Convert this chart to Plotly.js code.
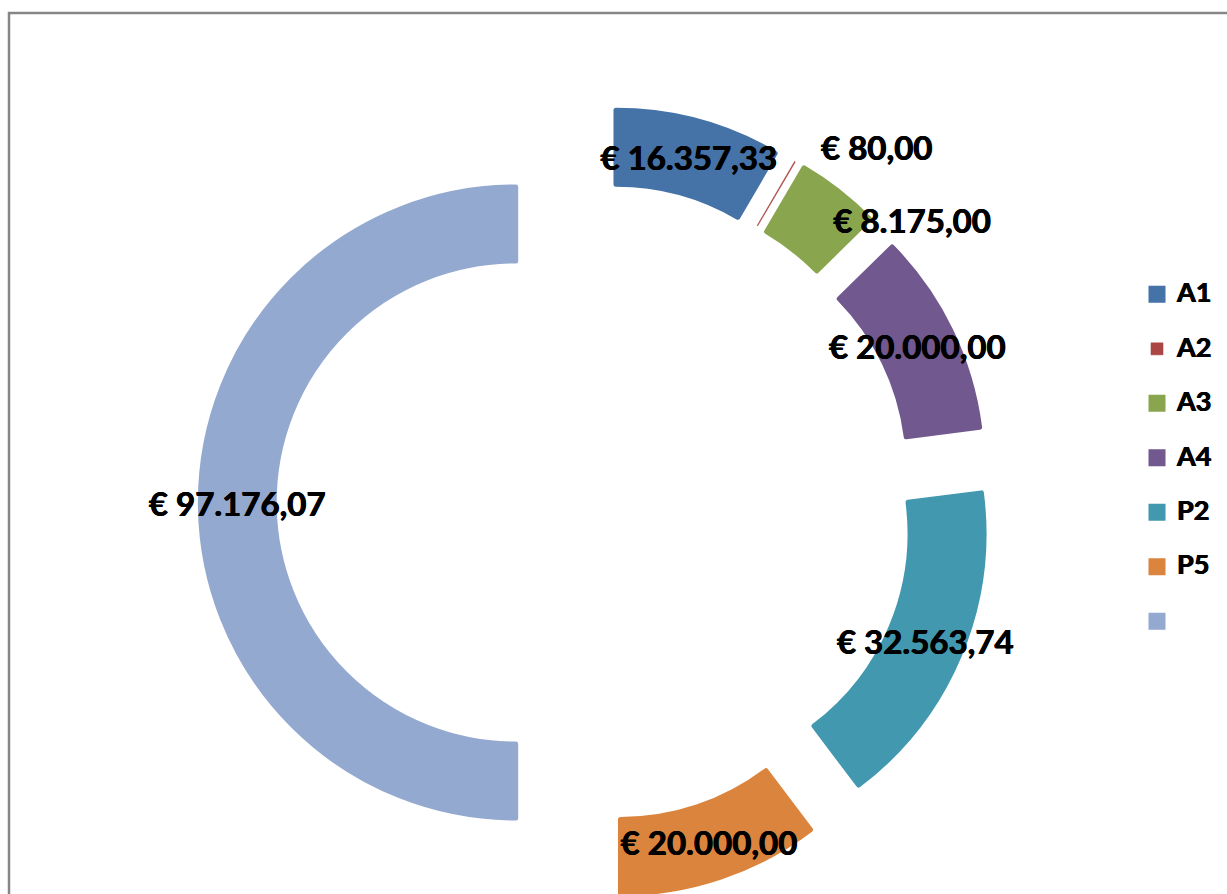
<!DOCTYPE html>
<html>
<head>
<meta charset="utf-8">
<script src="https://cdn.plot.ly/plotly-3.0.1.min.js"></script>
<style>
  html, body { margin: 0; padding: 0; background: #ffffff; overflow: hidden; }
  #chart { width: 1227px; height: 1100px; }
</style>
</head>
<body>
<div id="chart"></div>
<script>
// ---- data ----
const categories = ['A1', 'A2', 'A3', 'A4', 'P2', 'P5', ''];
const values = [16357.33, 80.00, 8175.00, 20000.00, 32563.74, 20000.00, 97176.07];

// ---- styling (kept separate from the data) ----
const sliceColors = ['#4572A7', '#AA4643', '#89A54E', '#71588F', '#4198AF', '#DB843D', '#93A9CF'];
const edgeWidths = [5, 0.6, 5, 5, 5, 5, 5];
const labelPositions = ['inside', 'outside', 'inside', 'inside', 'inside', 'inside', 'inside'];

const W = 1227, H = 1100;
const nb = n => '\u00a0'.repeat(n);
const legendLabels = categories.map(c =>
  '<span style="font-size:27px">' + (c === '' ? '\u00a0' : c) + '</span><br>\u00a0');
const templates = categories.map((c, i) => {
  if (labelPositions[i] === 'outside') return nb(2) + '€ %{value:,.2f}';
  if (c === 'A3') return nb(24) + '€ %{value:,.2f}';
  if (c === 'A1') return '€ %{value:,.2f}';
  return nb(6) + '€ %{value:,.2f}' + nb(6);
});

const heavy = '0.5px 0px 0px #000, -0.4px 0px 0px #000';
const labelFont = { family: 'Lato, sans-serif', size: 33, color: '#000000', weight: 700, shadow: heavy };

const trace = {
  type: 'pie',
  labels: legendLabels,
  values: values,
  sort: false,
  direction: 'clockwise',
  rotation: 0,
  hole: 0.7655,
  pull: 0.252,
  marker: { colors: sliceColors, line: { width: edgeWidths, color: sliceColors } },
  texttemplate: templates,
  textposition: labelPositions,
  insidetextorientation: 'horizontal',
  textfont: labelFont,
  insidetextfont: labelFont,
  outsidetextfont: labelFont,
  hoverinfo: 'none',
  domain: { x: [200.2 / W, 990.2 / W], y: [1 - 897.5 / H, 1 - 107.5 / H] }
};

const layout = {
  width: W,
  height: H,
  margin: { l: 0, r: 0, t: 0, b: 0 },
  paper_bgcolor: '#ffffff',
  separators: ',.',
  showlegend: true,
  uniformtext: { minsize: 33, mode: 'show' },
  legend: {
    x: 1137 / W, xanchor: 'left',
    y: 1 - 275 / H, yanchor: 'top',
    valign: 'top',
    font: { family: 'Lato, sans-serif', size: 19.8, color: '#000000', weight: 700, shadow: heavy },
    bgcolor: 'rgba(0,0,0,0)'
  },
  shapes: [{
    type: 'rect', xref: 'paper', yref: 'paper',
    x0: 9 / W, x1: 1.2, y0: 1 - 13 / H, y1: -0.2,
    line: { color: '#868686', width: 2.5 }, layer: 'below'
  }]
};

Plotly.newPlot('chart', [trace], layout, { displayModeBar: false, staticPlot: true });
</script>
</body>
</html>
